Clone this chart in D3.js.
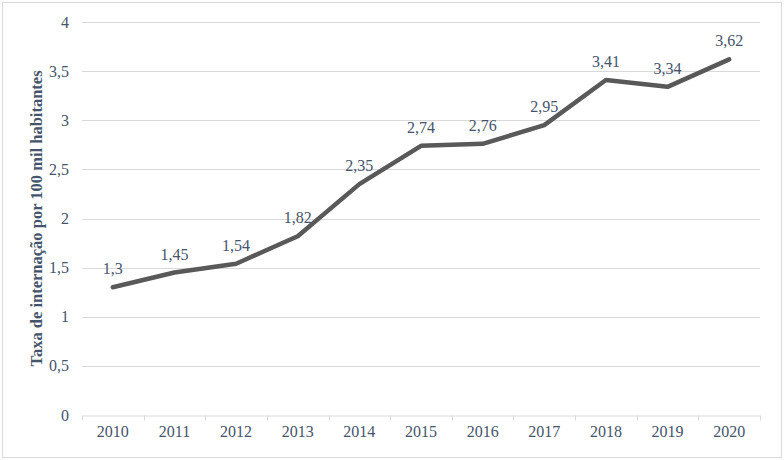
<!DOCTYPE html>
<html><head><meta charset="utf-8">
<script src="https://cdn.jsdelivr.net/npm/d3@7"></script>
<style>body{margin:0;background:#fff}svg{display:block}</style>
</head><body>
<script>
const years = ["2010","2011","2012","2013","2014","2015","2016","2017","2018","2019","2020"];
const rates = [1.3,1.45,1.54,1.82,2.35,2.74,2.76,2.95,3.41,3.34,3.62];
const yTicks = [0,0.5,1,1.5,2,2.5,3,3.5,4];
const yTitle = "Taxa de internação por 100 mil habitantes";

const W=784,H=460;
const m={l:82,r:24,t:22,b:45};
const svg=d3.select("body").append("svg").attr("width",W).attr("height",H);
const font="'Liberation Serif','Times New Roman',serif";
const txt="#44546A";

svg.append("rect").attr("x",2.5).attr("y",2.5).attr("width",W-5).attr("height",H-5)
  .attr("fill","#fff").attr("stroke","#D9D9D9").attr("stroke-width",1);

const x=d3.scaleBand().domain(years).range([m.l,W-m.r]);
const y=d3.scaleLinear().domain([0,4]).range([H-m.b,m.t]);
const fmt=d=>String(d).replace(".",",");

// gridlines
svg.append("g").selectAll("line").data(yTicks.filter(d=>d>0)).join("line")
  .attr("x1",m.l).attr("x2",W-m.r).attr("y1",d=>Math.round(y(d))+0.5).attr("y2",d=>Math.round(y(d))+0.5)
  .attr("stroke","#D9D9D9").attr("stroke-width",1);

// y labels
svg.append("g").selectAll("text").data(yTicks).join("text")
  .attr("x",69).attr("y",d=>y(d)).attr("dy","0.35em").attr("text-anchor","end")
  .attr("font-family",font).attr("font-size",16).attr("fill",txt).text(fmt);

// x axis
const xa=svg.append("g").attr("transform",`translate(0,${Math.round(y(0))+0.5})`)
  .call(d3.axisBottom(x).tickSize(0).tickSizeOuter(0));
xa.select(".domain").attr("stroke","#D9D9D9");
xa.selectAll("text").attr("font-family",font).attr("font-size",16).attr("fill",txt).attr("dy","1.15em");
const bounds=years.map(d=>x(d)).concat([x(years[years.length-1])+x.bandwidth()]);
xa.append("g").selectAll("line").data(bounds).join("line")
  .attr("x1",d=>Math.round(d)+0.5).attr("x2",d=>Math.round(d)+0.5).attr("y1",0).attr("y2",5)
  .attr("stroke","#D9D9D9");

// line
const cx=d=>x(d)+x.bandwidth()/2;
svg.append("path").datum(rates.map((v,i)=>[years[i],v]))
  .attr("fill","none").attr("stroke","#595959").attr("stroke-width",4.5)
  .attr("stroke-linejoin","round").attr("stroke-linecap","round")
  .attr("d",d3.line().x(d=>cx(d[0])).y(d=>y(d[1])));

// data labels
svg.append("g").selectAll("text").data(rates).join("text")
  .attr("x",(d,i)=>cx(years[i])).attr("y",d=>y(d)-13).attr("text-anchor","middle")
  .attr("font-family",font).attr("font-size",16).attr("fill",txt).text(fmt);

// y title
svg.append("text").attr("transform",`translate(42,${(m.t+H-m.b)/2}) rotate(-90)`)
  .attr("text-anchor","middle").attr("font-family",font).attr("font-size",16.5)
  .attr("font-weight","bold").attr("fill",txt).text(yTitle);
</script>
</body></html>
